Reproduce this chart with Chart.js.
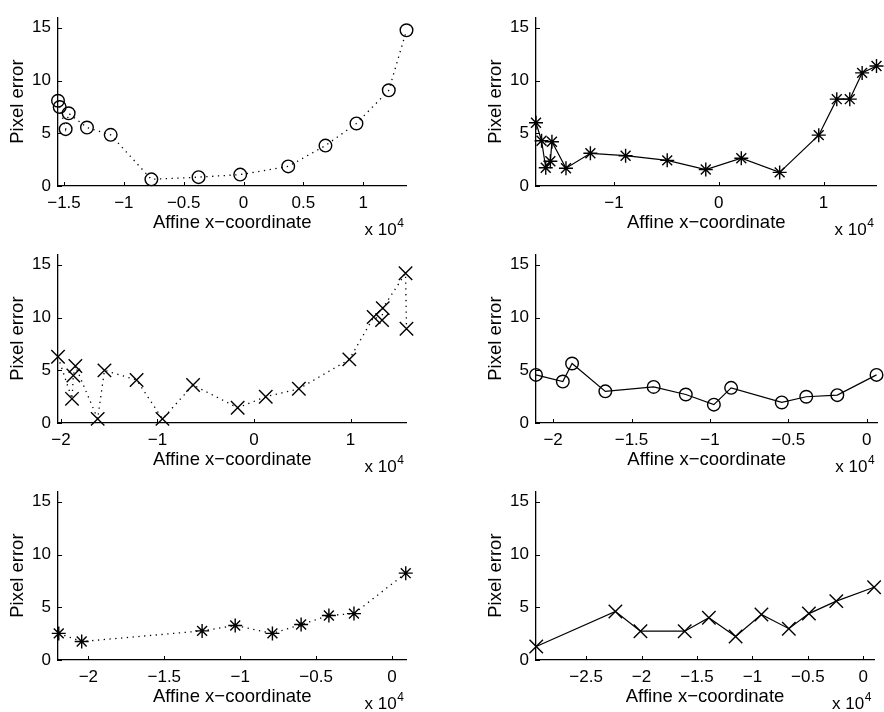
<!DOCTYPE html>
<html>
<head>
<meta charset="utf-8">
<script src="https://cdn.jsdelivr.net/npm/chart.js@4/dist/chart.umd.min.js"></script>
<style>
html,body{margin:0;padding:0;background:#fff;overflow:hidden;}
#wrap{position:relative;width:884px;height:712px;overflow:hidden;background:#fff;}
#wrap canvas{position:absolute;}
</style>
</head>
<body>
<div id="wrap"></div>
<script>
// x values are affine x-coordinates in units of 10^4, y is pixel error

// panel 1 (top left)
const ax1 = [-1.550, -1.536, -1.486, -1.461, -1.308, -1.110, -0.770, -0.376, -0.028, 0.373, 0.684, 0.943, 1.213, 1.361];
const py1 = [8.08, 7.49, 5.39, 6.89, 5.54, 4.85, 0.63, 0.84, 1.08, 1.86, 3.83, 5.93, 9.07, 14.76];

// panel 2 (top right)
const ax2 = [-1.744, -1.691, -1.651, -1.607, -1.592, -1.458, -1.225, -0.889, -0.492, -0.124, 0.215, 0.581, 0.954, 1.126, 1.250, 1.368, 1.505];
const py2 = [5.99, 4.29, 1.73, 2.34, 4.20, 1.68, 3.10, 2.87, 2.43, 1.56, 2.63, 1.29, 4.82, 8.23, 8.23, 10.72, 11.38];

// panel 3 (middle left)
const ax3 = [-2.030, -1.885, -1.871, -1.850, -1.619, -1.549, -1.216, -0.948, -0.631, -0.169, 0.122, 0.465, 0.988, 1.240, 1.327, 1.334, 1.570, 1.580];
const py3 = [6.28, 2.29, 4.50, 5.40, 0.39, 4.99, 4.08, 0.39, 3.60, 1.44, 2.49, 3.24, 6.03, 10.05, 9.75, 10.89, 14.19, 8.94];

// panel 4 (middle right)
const ax4 = [-2.109, -1.938, -1.879, -1.667, -1.359, -1.154, -0.975, -0.865, -0.542, -0.386, -0.188, 0.062];
const py4 = [4.56, 3.93, 5.64, 3.00, 3.42, 2.70, 1.74, 3.33, 1.95, 2.49, 2.64, 4.56];

// panel 5 (bottom left)
const ax5 = [-2.195, -2.044, -1.251, -1.033, -0.788, -0.599, -0.416, -0.251, 0.090];
const py5 = [2.52, 1.75, 2.76, 3.27, 2.52, 3.36, 4.22, 4.40, 8.23];

// panel 6 (bottom right)
const ax6 = [-2.950, -2.236, -2.010, -1.611, -1.393, -1.152, -0.919, -0.672, -0.491, -0.244, 0.097];
const py6 = [1.28, 4.60, 2.73, 2.73, 4.01, 2.23, 4.31, 2.97, 4.40, 5.58, 6.89];

const xTitle = "Affine x\u2212coordinate";
const yTitle = "Pixel error";
const yTicks = [0, 5, 10, 15];

const FONT = "'Liberation Sans', Arial, Helvetica, sans-serif";
Chart.defaults.font.family = FONT;
Chart.defaults.color = "#000";

const panels = [
  {xs: ax1, ys: py1, min: -1.550, max: 1.361, step: 0.5, marker: "circle", r: 6.3, dotted: true},
  {xs: ax2, ys: py2, min: -1.744, max: 1.506, step: 1, marker: "star", r: 7, dotted: false},
  {xs: ax3, ys: py3, min: -2.030, max: 1.580, step: 1, marker: "crossRot", r: 9.5, dotted: true},
  {xs: ax4, ys: py4, min: -2.109, max: 0.067, step: 0.5, marker: "circle", r: 6.3, dotted: false},
  {xs: ax5, ys: py5, min: -2.200, max: 0.095, step: 0.5, marker: "star", r: 7, dotted: true},
  {xs: ax6, ys: py6, min: -2.952, max: 0.097, step: 0.5, marker: "crossRot", r: 9.5, dotted: false}
];

function fmt(v) {
  const s = String(Math.round(v * 10) / 10);
  return s.replace("-", "\u2212");
}

// matlab style inward ticks + the "x 10^4" exponent label
const matlabAxes = {
  id: "matlabAxes",
  afterDraw(chart) {
    const ctx = chart.ctx;
    const a = chart.chartArea;
    const sx = chart.scales.x, sy = chart.scales.y;
    ctx.save();
    ctx.strokeStyle = "#000";
    ctx.lineWidth = 1;
    ctx.beginPath();
    sx.ticks.forEach(t => {
      const p = Math.round(sx.getPixelForValue(t.value)) + 0.5;
      ctx.moveTo(p, a.bottom);
      ctx.lineTo(p, a.bottom - 4);
    });
    sy.ticks.forEach(t => {
      const p = Math.round(sy.getPixelForValue(t.value)) + 0.5;
      ctx.moveTo(a.left, p);
      ctx.lineTo(a.left + 4, p);
    });
    ctx.stroke();

    ctx.fillStyle = "#000";
    ctx.textBaseline = "alphabetic";
    ctx.textAlign = "left";
    ctx.font = "17px " + FONT;
    const bx = a.right - 42;
    const by = 234.5;
    ctx.fillText("x 10", bx, by);
    const w = ctx.measureText("x 10").width;
    ctx.font = "12px " + FONT;
    ctx.fillText("4", bx + w + 0.5, by - 8);
    ctx.restore();
  }
};

function makePanel(p, i) {
  const col = i % 2, row = Math.floor(i / 2);
  const cw = col === 0 ? 442 : 443;
  const ch = 237;
  const c = document.createElement("canvas");
  c.width = cw;
  c.height = ch;
  c.style.left = (col * 442) + "px";
  c.style.top = (row * 237) + "px";
  c.style.width = cw + "px";
  c.style.height = ch + "px";
  document.getElementById("wrap").appendChild(c);

  const pts = p.xs.map((x, k) => ({x: x, y: p.ys[k]}));

  new Chart(c.getContext("2d"), {
    type: "scatter",
    data: {
      datasets: [{
        data: pts,
        showLine: true,
        borderColor: "#000",
        borderWidth: p.dotted ? 1.3 : 1.2,
        borderDash: p.dotted ? [1.3, 4.5] : [],
        pointStyle: p.marker,
        pointRadius: p.r,
        pointBorderWidth: 1.4,
        pointBorderColor: "#000",
        pointBackgroundColor: "rgba(0,0,0,0)",
        clip: false
      }]
    },
    options: {
      responsive: false,
      devicePixelRatio: 1,
      animation: false,
      events: [],
      layout: {
        padding: col === 0
          ? {left: 0, right: 35.5, top: 8, bottom: 0}
          : {left: 36, right: 0.5, top: 8, bottom: 0}
      },
      plugins: {
        legend: {display: false},
        tooltip: {enabled: false}
      },
      scales: {
        x: {
          type: "linear",
          min: p.min,
          max: p.max,
          afterFit: s => { s.height = 51; },
          grid: {display: false, drawTicks: false},
          border: {display: true, color: "#000", width: 1.3},
          ticks: {
            stepSize: p.step,
            includeBounds: false,
            autoSkip: false,
            maxRotation: 0,
            padding: 7.5,
            font: {size: 17},
            color: "#000",
            callback: v => fmt(v)
          },
          title: {
            display: true,
            text: xTitle,
            font: {size: 18.5},
            color: "#000",
            padding: {top: 0, bottom: 2.5}
          }
        },
        y: {
          type: "linear",
          min: 0,
          max: 16,
          afterFit: s => { s.width = 58; },
          afterBuildTicks: s => { s.ticks = yTicks.map(v => ({value: v})); },
          grid: {display: false, drawTicks: false},
          border: {display: true, color: "#000", width: 1.3},
          ticks: {
            padding: 7,
            font: {size: 17},
            color: "#000",
            callback: v => fmt(v)
          },
          title: {
            display: true,
            text: yTitle,
            font: {size: 18.5},
            color: "#000",
            padding: {top: 6.9, bottom: 0}
          }
        }
      }
    },
    plugins: [matlabAxes]
  });
}

panels.forEach(makePanel);
</script>
</body>
</html>
